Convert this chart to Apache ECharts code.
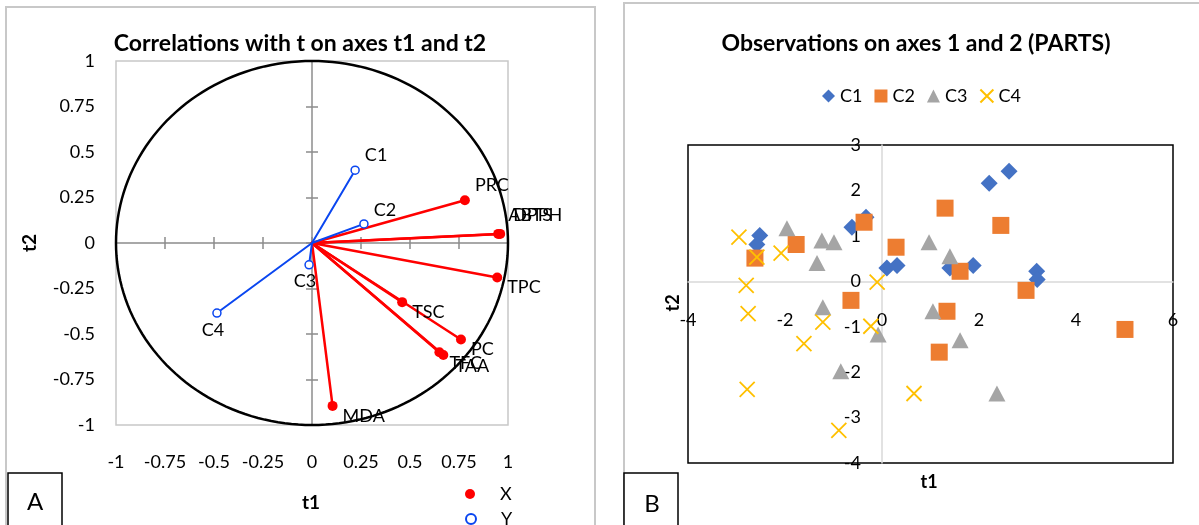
<!DOCTYPE html>
<html>
<head>
<meta charset="utf-8">
<script src="https://cdn.jsdelivr.net/npm/echarts@6/dist/echarts.min.js"></script>
<style>
  html, body { margin: 0; padding: 0; background: #fff; }
  #chart { width: 1199px; height: 525px; }
</style>
</head>
<body>
<div id="chart"></div>
<script>
// ---- Panel A: correlations of variables with t1 / t2 ----
const xVars = ['PRC', 'ABTS', 'DPPH', 'TPC', 'TSC', 'PC', 'TFC', 'TAA', 'MDA'];
const xT1 = [0.78, 0.95, 0.96, 0.945, 0.46, 0.76, 0.65, 0.67, 0.105];
const xT2 = [0.235, 0.05, 0.05, -0.19, -0.325, -0.53, -0.60, -0.615, -0.895];

const yVars = ['C1', 'C2', 'C3', 'C4'];
const yT1 = [0.22, 0.265, -0.015, -0.485];
const yT2 = [0.40, 0.105, -0.12, -0.385];

const corrTickLabels = ['-1', '-0.75', '-0.5', '-0.25', '0', '0.25', '0.5', '0.75', '1'];

// ---- Panel B: observations on axes 1 and 2 ----
const c1X = [-2.52, -2.58, -0.62, -0.33, 0.10, 0.31, 2.21, 2.62, 1.40, 1.88, 3.19, 3.20];
const c1Y = [1.01, 0.81, 1.19, 1.41, 0.29, 0.35, 2.16, 2.42, 0.29, 0.35, 0.22, 0.04];
const c2X = [-2.62, -1.77, -0.37, 0.29, -0.64, 1.30, 2.45, 1.61, 2.97, 1.34, 5.01, 1.18];
const c2Y = [0.51, 0.81, 1.30, 0.75, -0.42, 1.61, 1.23, 0.22, -0.20, -0.66, -1.06, -1.56];
const c3X = [-1.96, -1.24, -0.99, -1.34, -1.22, 0.97, 1.40, 1.05, 1.61, -0.08, -0.85, 2.37];
const c3Y = [1.17, 0.90, 0.86, 0.40, -0.57, 0.86, 0.55, -0.66, -1.30, -1.17, -1.98, -2.47];
const c4X = [-2.95, -2.58, -2.08, -2.80, -0.10, -2.76, -1.22, -1.61, -0.23, -2.78, -0.89, 0.66];
const c4Y = [0.97, 0.53, 0.62, -0.09, -0.02, -0.71, -0.90, -1.37, -0.99, -2.38, -3.28, -2.47];

const obsXTickLabels = ['-4', '-2', '0', '2', '4', '6'];
const obsYTickLabels = ['-4', '-3', '-2', '-1', '0', '1', '2', '3'];

// ---- styling ----
const FONT = 'Lato';
const TXT = '#000';
const RED = '#ff0000';
const BLUE = '#0a46f0';

// plot areas (pixels)
const GA = { left: 116, top: 61, width: 392, height: 364 };
const GB = { left: 688, top: 145, width: 485, height: 318 };
// distance of the zero lines of panel B from its left / bottom edges
const zeroShiftX = GB.width * (0 - -4) / (6 - -4);
const zeroShiftY = GB.height * (0 - -4) / (3 - -4);

// where each variable name sits around its point
const labelPlace = {
  PRC: { position: 'right', offset: [0, -15] },
  ABTS: { position: 'right', offset: [0, -19] },
  DPPH: { position: 'right', offset: [3, -19] },
  TPC: { position: 'right', offset: [0, 10] },
  TSC: { position: 'right', offset: [0, 10] },
  PC: { position: 'right', offset: [0, 10] },
  TFC: { position: 'right', offset: [0, 11] },
  TAA: { position: 'right', offset: [2, 11] },
  MDA: { position: 'right', offset: [0, 10] },
  C1: { position: 'right', offset: [0, -15] },
  C2: { position: 'right', offset: [0, -14] },
  C3: { position: 'bottom', offset: [-4, -2] },
  C4: { position: 'bottom', offset: [-4, -2] }
};

function pointData(names, xs, ys) {
  return names.map((n, i) => ({
    name: n,
    value: [xs[i], ys[i]],
    label: Object.assign({ distance: 5 }, labelPlace[n])
  }));
}
function pairs(xs, ys) { return xs.map((v, i) => [v, ys[i]]); }

// vector from the origin to each point
function vectorRenderer(color, width) {
  return function (params, api) {
    const o = api.coord([0, 0]);
    const p = api.coord([api.value(0), api.value(1)]);
    return {
      type: 'line',
      shape: { x1: o[0], y1: o[1], x2: p[0], y2: p[1] },
      style: { stroke: color, lineWidth: width, lineCap: 'round' }
    };
  };
}

// unit correlation circle
function circleRenderer(params, api) {
  const pts = [];
  for (let a = 0; a <= 360; a += 2) {
    const r = a * Math.PI / 180;
    pts.push(api.coord([Math.cos(r), Math.sin(r)]));
  }
  return { type: 'polyline', shape: { points: pts }, style: { stroke: '#000', lineWidth: 2.5, fill: null } };
}

const axisGray = { color: '#8c8c8c', width: 1.5 };
const zeroGray = { color: '#d9d9d9', width: 1.5 };
const corrFmt = (v, i) => corrTickLabels[i];
const tickFont = { fontSize: 18, color: TXT, fontFamily: FONT };
const pointLabel = { show: true, formatter: '{b}', fontSize: 18, color: '#000', fontFamily: FONT };

const crossPath = 'path://M0,0L10,10M10,0L0,10';

function lineOnlyAxis(extra) {
  return Object.assign({
    type: 'value', axisLabel: { show: false }, splitLine: { show: false }
  }, extra);
}

const option = {
  animation: false,
  textStyle: { fontFamily: FONT },
  grid: [
    Object.assign({ show: true, borderColor: '#c8c8c8', borderWidth: 1.5, backgroundColor: 'transparent' }, GA),
    Object.assign({ show: true, borderColor: '#000', borderWidth: 1.5, backgroundColor: 'transparent' }, GB)
  ],
  xAxis: [
    // panel A: zero line with ticks crossing it (down / up), then the labels along the bottom
    lineOnlyAxis({ gridIndex: 0, min: -1, max: 1, interval: 0.25, position: 'bottom',
      axisLine: { show: true, onZero: true, lineStyle: axisGray },
      axisTick: { show: true, inside: false, length: 6, lineStyle: axisGray } }),
    lineOnlyAxis({ gridIndex: 0, min: -1, max: 1, interval: 0.25, position: 'top',
      axisLine: { show: false, onZero: true },
      axisTick: { show: true, inside: false, length: 6, lineStyle: axisGray } }),
    { gridIndex: 0, type: 'value', min: -1, max: 1, interval: 0.25, position: 'bottom',
      axisLine: { show: false, onZero: false }, axisTick: { show: false },
      axisLabel: Object.assign({ show: true, margin: 28, formatter: corrFmt }, tickFont),
      splitLine: { show: false } },
    // panel B: zero line, then labels set just under it
    lineOnlyAxis({ gridIndex: 1, min: -4, max: 6, interval: 2,
      axisLine: { show: true, onZero: true, lineStyle: zeroGray }, axisTick: { show: false } }),
    { gridIndex: 1, type: 'value', min: -4, max: 6, interval: 2, position: 'bottom', offset: -zeroShiftY,
      axisLine: { show: false, onZero: false }, axisTick: { show: false },
      axisLabel: Object.assign({ show: true, margin: 30, formatter: (v, i) => obsXTickLabels[i] }, tickFont),
      splitLine: { show: false } }
  ],
  yAxis: [
    lineOnlyAxis({ gridIndex: 0, min: -1, max: 1, interval: 0.25, position: 'left',
      axisLine: { show: true, onZero: true, lineStyle: axisGray },
      axisTick: { show: true, inside: false, length: 6, lineStyle: axisGray } }),
    lineOnlyAxis({ gridIndex: 0, min: -1, max: 1, interval: 0.25, position: 'right',
      axisLine: { show: false, onZero: true },
      axisTick: { show: true, inside: false, length: 6, lineStyle: axisGray } }),
    { gridIndex: 0, type: 'value', min: -1, max: 1, interval: 0.25, position: 'left',
      axisLine: { show: false, onZero: false }, axisTick: { show: false },
      axisLabel: Object.assign({ show: true, margin: 21, formatter: corrFmt }, tickFont),
      splitLine: { show: false } },
    lineOnlyAxis({ gridIndex: 1, min: -4, max: 3, interval: 1,
      axisLine: { show: true, onZero: true, lineStyle: zeroGray }, axisTick: { show: false } }),
    { gridIndex: 1, type: 'value', min: -4, max: 3, interval: 1, position: 'left', offset: -zeroShiftX,
      axisLine: { show: false, onZero: false }, axisTick: { show: false },
      axisLabel: Object.assign({ show: true, margin: 21, formatter: (v, i) => obsYTickLabels[i] }, tickFont),
      splitLine: { show: false } }
  ],
  legend: [
    { data: ['X'], left: 460, top: 480, itemWidth: 10, itemHeight: 10,
      textStyle: { fontSize: 18, color: TXT, fontFamily: FONT, padding: [0, 0, 0, 20] } },
    { data: ['Y'], left: 460, top: 505, itemWidth: 10, itemHeight: 10,
      textStyle: { fontSize: 18, color: TXT, fontFamily: FONT, padding: [0, 0, 0, 20] } },
    { data: ['C1', 'C2', 'C3', 'C4'], left: 817, top: 82, itemWidth: 13, itemHeight: 13, itemGap: 12,
      textStyle: { fontSize: 18, color: TXT, fontFamily: FONT } }
  ],
  series: [
    { type: 'custom', name: 'circle', xAxisIndex: 0, yAxisIndex: 0, data: [[0, 0]], renderItem: circleRenderer, silent: true, z: 2 },
    { type: 'custom', name: 'xVectors', xAxisIndex: 0, yAxisIndex: 0, data: pairs(xT1, xT2), renderItem: vectorRenderer(RED, 2.5), silent: true, z: 3 },
    { type: 'custom', name: 'yVectors', xAxisIndex: 0, yAxisIndex: 0, data: pairs(yT1, yT2), renderItem: vectorRenderer(BLUE, 2), silent: true, z: 3 },
    { type: 'scatter', name: 'X', xAxisIndex: 0, yAxisIndex: 0, symbol: 'circle', symbolSize: 10,
      itemStyle: { color: RED, opacity: 1 }, label: pointLabel,
      data: pointData(xVars, xT1, xT2), z: 4 },
    { type: 'scatter', name: 'Y', xAxisIndex: 0, yAxisIndex: 0, symbol: 'circle', symbolSize: 8,
      itemStyle: { color: '#fff', borderColor: BLUE, borderWidth: 1.5, opacity: 1 }, label: pointLabel,
      data: pointData(yVars, yT1, yT2), z: 4 },
    { type: 'scatter', name: 'C1', xAxisIndex: 3, yAxisIndex: 3, symbol: 'diamond', symbolSize: 17,
      itemStyle: { color: '#4472c4', opacity: 1 }, data: pairs(c1X, c1Y) },
    { type: 'scatter', name: 'C2', xAxisIndex: 3, yAxisIndex: 3, symbol: 'rect', symbolSize: 17,
      itemStyle: { color: '#ed7d31', opacity: 1 }, data: pairs(c2X, c2Y) },
    { type: 'scatter', name: 'C3', xAxisIndex: 3, yAxisIndex: 3, symbol: 'triangle', symbolSize: [17, 16],
      itemStyle: { color: '#a5a5a5', opacity: 1 }, data: pairs(c3X, c3Y) },
    { type: 'scatter', name: 'C4', xAxisIndex: 3, yAxisIndex: 3, symbol: crossPath, symbolSize: 15,
      itemStyle: { color: 'transparent', borderColor: '#ffc000', borderWidth: 1.8, opacity: 1 }, data: pairs(c4X, c4Y) }
  ],
  graphic: [
    // panel frames
    { type: 'rect', shape: { x: 6, y: 7, width: 589, height: 540 }, style: { fill: null, stroke: '#c8c8c8', lineWidth: 2 }, z: 0 },
    { type: 'rect', shape: { x: 624, y: 3, width: 600, height: 540 }, style: { fill: null, stroke: '#c8c8c8', lineWidth: 2 }, z: 0 },
    // panel tags
    { type: 'rect', shape: { x: 8, y: 473, width: 54, height: 70 }, style: { fill: '#fff', stroke: '#000', lineWidth: 1.5 }, z: 10 },
    { type: 'text', x: 35, y: 502, style: { text: 'A', fontSize: 24, fontFamily: FONT, fill: '#000', align: 'center', verticalAlign: 'middle' }, z: 11 },
    { type: 'rect', shape: { x: 624, y: 473, width: 54, height: 70 }, style: { fill: '#fff', stroke: '#000', lineWidth: 1.5 }, z: 10 },
    { type: 'text', x: 652, y: 504, style: { text: 'B', fontSize: 24, fontFamily: FONT, fill: '#000', align: 'center', verticalAlign: 'middle' }, z: 11 },
    // titles
    { type: 'text', x: 300, y: 44, style: { text: 'Correlations with t on axes t1 and t2', fontSize: 23, fontWeight: 'bold', fontFamily: FONT, fill: '#000', align: 'center', verticalAlign: 'middle' } },
    { type: 'text', x: 916, y: 44, style: { text: 'Observations on axes 1 and 2 (PARTS)', fontSize: 23, fontWeight: 'bold', fontFamily: FONT, fill: '#000', align: 'center', verticalAlign: 'middle' } },
    // axis titles
    { type: 'text', x: 311, y: 503, style: { text: 't1', fontSize: 19, fontWeight: 'bold', fontFamily: FONT, fill: TXT, align: 'center', verticalAlign: 'middle' } },
    { type: 'text', x: 30, y: 243, rotation: Math.PI / 2, style: { text: 't2', fontSize: 19, fontWeight: 'bold', fontFamily: FONT, fill: TXT, align: 'center', verticalAlign: 'middle' } },
    { type: 'text', x: 929, y: 482, style: { text: 't1', fontSize: 18, fontWeight: 'bold', fontFamily: FONT, fill: TXT, align: 'center', verticalAlign: 'middle' } },
    { type: 'text', x: 673, y: 303, rotation: Math.PI / 2, style: { text: 't2', fontSize: 18, fontWeight: 'bold', fontFamily: FONT, fill: TXT, align: 'center', verticalAlign: 'middle' } }
  ]
};

const chart = echarts.init(document.getElementById('chart'), null, { renderer: 'canvas' });
chart.setOption(option);
</script>
</body>
</html>
